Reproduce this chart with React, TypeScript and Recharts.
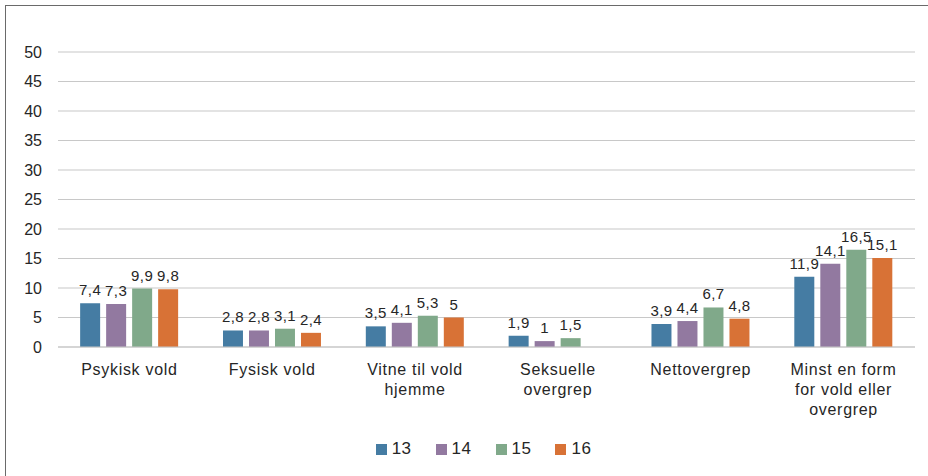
import { Bar, BarChart, CartesianGrid, LabelList, Legend, XAxis, YAxis } from "recharts"

const categories = [
  "Psykisk vold",
  "Fysisk vold",
  "Vitne til vold\nhjemme",
  "Seksuelle\novergrep",
  "Nettovergrep",
  "Minst en form\nfor vold eller\novergrep",
]

const series13 = [7.4, 2.8, 3.5, 1.9, 3.9, 11.9]
const series14 = [7.3, 2.8, 4.1, 1, 4.4, 14.1]
const series15 = [9.9, 3.1, 5.3, 1.5, 6.7, 16.5]
const series16: (number | null)[] = [9.8, 2.4, 5, null, 4.8, 15.1]

const yTicks = [0, 5, 10, 15, 20, 25, 30, 35, 40, 45, 50]

const seriesNames = ["13", "14", "15", "16"]
const colors = ["#457ca3", "#9279a0", "#80a98a", "#d87236"]

const data = categories.map((name, i) => ({
  name,
  s13: series13[i],
  s14: series14[i],
  s15: series15[i],
  s16: series16[i],
}))

const FONT = "'Liberation Sans', Arial, sans-serif"

function formatValue(v: unknown) {
  if (v === null || v === undefined) return ""
  return String(v).replace(".", ",")
}

function CategoryTick({ x, y, payload }: { x?: number; y?: number; payload?: { value: string } }) {
  const lines = (payload?.value ?? "").split("\n")
  return (
    <text
      x={x}
      y={y}
      textAnchor="middle"
      fill="#262626"
      fontSize={16}
      fontFamily={FONT}
      style={{ letterSpacing: "0.7px" }}
    >
      {lines.map((line, i) => (
        <tspan key={i} x={x} dy={20}>
          {line}
        </tspan>
      ))}
    </text>
  )
}

function ChartLegend() {
  return (
    <div
      style={{
        display: "flex",
        justifyContent: "center",
        gap: 24,
        paddingLeft: 52,
        fontFamily: FONT,
        fontSize: 17,
        color: "#262626",
        letterSpacing: "0.5px",
      }}
    >
      {seriesNames.map((name, i) => (
        <div key={name} style={{ display: "flex", alignItems: "center", gap: 5 }}>
          <span style={{ display: "inline-block", width: 11, height: 11, background: colors[i] }} />
          <span>{name}</span>
        </div>
      ))}
    </div>
  )
}

export default function App() {
  const keys = ["s13", "s14", "s15", "s16"]
  return (
    <div style={{ position: "absolute", left: 0, top: 0, width: 928, height: 476, overflow: "hidden", background: "#fff" }}>
      <div
        style={{
          position: "absolute",
          left: 5,
          top: 5,
          width: 940,
          height: 490,
          border: "1.5px solid #6a6a6a",
        }}
      />
      <div style={{ position: "absolute", left: 0, top: 0 }}>
        <BarChart
          width={928}
          height={476}
          data={data}
          margin={{ top: 52, right: 13, bottom: 13, left: 0 }}
          barCategoryGap="15.5%"
          barGap={6}
        >
          <CartesianGrid vertical={false} stroke="#c8c8c8" strokeWidth={1.2} />
          <XAxis
            dataKey="name"
            axisLine={{ stroke: "#c8c8c8", strokeWidth: 1.2 }}
            tickLine={false}
            height={92}
            interval={0}
            tick={<CategoryTick />}
          />
          <YAxis
            domain={[0, 50]}
            ticks={yTicks}
            width={58}
            axisLine={false}
            tickLine={false}
            tickMargin={10}
            tick={{ fontSize: 16, fill: "#262626", fontFamily: FONT }}
          />
          <Legend verticalAlign="bottom" content={<ChartLegend />} height={24} />
          {keys.map((k, i) => (
            <Bar key={k} dataKey={k} name={seriesNames[i]} fill={colors[i]} isAnimationActive={false}>
              <LabelList
                dataKey={k}
                position="top"
                offset={8}
                formatter={formatValue}
                style={{ fontSize: 15, fill: "#262626", fontFamily: FONT, letterSpacing: "0.4px" }}
              />
            </Bar>
          ))}
        </BarChart>
      </div>
    </div>
  )
}
